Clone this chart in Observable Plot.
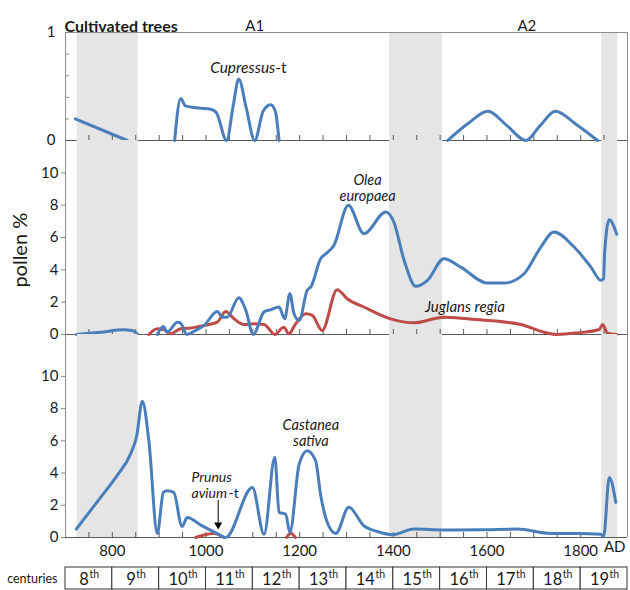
<!DOCTYPE html>
<html><head><meta charset="utf-8">
<script src="https://cdn.jsdelivr.net/npm/d3@7"></script>
<script src="https://cdn.jsdelivr.net/npm/@observablehq/plot@0.6"></script>
<style>
body{margin:0;background:#fff;}
#chart{position:relative;width:630px;height:590px;}
#chart svg{position:absolute;left:0;top:0;}
</style></head><body><div id="chart"></div>
<script>
// ---------- data ----------
const bandStart = [725, 1392, 1845];
const bandEnd   = [855, 1505, 1879];
const xTickYears  = [750, 800, 850, 900, 950, 1000, 1050, 1100, 1150, 1200, 1250, 1300, 1350, 1400, 1450, 1500, 1550, 1600, 1650, 1700, 1750, 1800, 1850];
const xLabelYears = [800, 1000, 1200, 1400, 1600, 1800];
const topTicks = [0, 1];
const topMinorTicks = [0.2, 0.4, 0.6, 0.8];
const pollenTicks = [0, 2, 4, 6, 8, 10];
const centuryStart = [700, 800, 900, 1000, 1100, 1200, 1300, 1400, 1500, 1600, 1700, 1800];
const centuryLabel = ["8", "9", "10", "11", "12", "13", "14", "15", "16", "17", "18", "19"];

// Cupressus-t (top panel), null = gap
const cupressusYear  = [721, 832, 880, 933, 946, 956, 985, 1010, 1022, 1044, 1058, 1070, 1086, 1104, 1122, 1138, 1148, 1156, 1300, 1516, 1560, 1602, 1642, 1683, 1714, 1746, 1790, 1836];
const cupressusValue = [0.2, 0, null, 0, 0.39, 0.32, 0.3, 0.29, 0.26, 0, 0.32, 0.57, 0.3, 0, 0.27, 0.33, 0.27, 0, null, 0, 0.16, 0.27, 0.14, 0, 0.14, 0.27, 0.15, 0];

// Olea europaea (middle)
const oleaYear  = [723, 775, 824, 842, 853, 875, 896, 909, 917, 939, 946, 959, 971, 996, 1024, 1035, 1045, 1070, 1085, 1101, 1124, 1138, 1156, 1168, 1179, 1188, 1199, 1216, 1224, 1245, 1256, 1273, 1304, 1337, 1384, 1401, 1423, 1448, 1473, 1508, 1544, 1601, 1637, 1679, 1715, 1743, 1786, 1822, 1843, 1849, 1851, 1861, 1877];
const oleaValue = [0, 0.14, 0.29, 0.25, 0.04, null, 0, 0.5, 0.15, 0.76, 0.7, 0, 0.15, 0.56, 1.43, 1.07, 1.07, 2.27, 1.5, 0, 1.4, 1.53, 1.7, 0.97, 2.52, 1.28, 0.87, 2.73, 2.95, 4.7, 5.0, 5.5, 8.0, 6.24, 7.58, 6.96, 4.59, 2.98, 3.35, 4.69, 4.17, 3.18, 3.18, 3.76, 5.41, 6.34, 5.41, 4.17, 3.35, 3.45, 5.0, 7.1, 6.2];

// Juglans regia (middle)
const juglansYear  = [878, 896, 910, 924, 946, 967, 996, 1024, 1042, 1060, 1081, 1102, 1124, 1147, 1166, 1177, 1190, 1213, 1227, 1248, 1280, 1302, 1337, 1394, 1444, 1508, 1558, 1672, 1722, 1751, 1793, 1840, 1847, 1857, 1877];
const juglansValue = [0, 0.35, 0.3, 0.04, 0.35, 0.4, 0.56, 0.76, 1.43, 0.97, 0.62, 0.66, 0.62, 0, 0.45, 0.04, 0.6, 1.28, 1.18, 0.25, 2.77, 2.2, 1.7, 0.97, 0.72, 1.07, 0.97, 0.62, 0.14, 0, 0.1, 0.31, 0.62, 0.08, 0];

// Castanea sativa (bottom)
const castaneaYear  = [723, 775, 810, 839, 852, 864, 878, 896, 909, 917, 931, 949, 960, 990, 1020, 1042, 1099, 1124, 1147, 1156, 1170, 1179, 1199, 1216, 1234, 1245, 1259, 1277, 1305, 1337, 1366, 1398, 1444, 1508, 1594, 1665, 1736, 1793, 1843, 1849, 1861, 1875];
const castaneaValue = [0.52, 2.49, 3.84, 5.19, 6.3, 8.46, 6.0, 0.25, 2.8, 2.9, 2.8, 0.68, 1.24, 0.75, 0.3, 0, 3.1, 0.2, 4.98, 1.56, 1.45, 0.31, 4.56, 5.39, 4.77, 2.6, 0.93, 0.25, 1.87, 0.73, 0.37, 0.17, 0.52, 0.46, 0.48, 0.52, 0.25, 0.25, 0.2, 0.05, 3.73, 2.18];

// Prunus avium-t (bottom)
const prunusYear  = [978, 995, 1016, 1030, 1038, 1100, 1172, 1181, 1191];
const prunusValue = [0, 0.15, 0.25, 0.15, 0, null, 0, 0.27, 0];

// ---------- build ----------
const zip = (xs, ys) => xs.map((x, i) => ({year: x, value: ys[i]}));
const cupressus = zip(cupressusYear, cupressusValue);
const olea = zip(oleaYear, oleaValue);
const juglans = zip(juglansYear, juglansValue);
const castanea = zip(castaneaYear, castaneaValue);
const prunus = zip(prunusYear, prunusValue);
const bands = bandStart.map((s, i) => ({start: s, end: bandEnd[i]}));
const centuries = centuryStart.map((s, i) => ({start: s, end: s + 100, label: centuryLabel[i]}));

const W = 630, ML = 65, MR = 3;
const xDomain = [centuryStart[0], centuryStart[centuryStart.length - 1] + 100];
const BLUE = "#4a7ebb", RED = "#be4b48", BAND = "#e5e5e5", FRAME = "#8c8c8c", ZERO = "#595959", INK = "#1a1a1a";
const FONT = "Lato, 'Open Sans', sans-serif";
const style = {background: "transparent", overflow: "visible", fontFamily: FONT, fontSize: "15px", color: INK};
const base = {width: W, marginLeft: ML, marginRight: MR, x: {domain: xDomain, axis: null}, style};
const fmt = d => String(d);

const bandMark = () => Plot.rect(bands, {x1: "start", x2: "end", fill: BAND});
const edges = () => Plot.ruleX(xDomain, {stroke: FRAME});
const zeroLine = () => Plot.ruleY([0], {stroke: ZERO});
const zeroTicks = (panelH) => Plot.tickX(xTickYears, {x: d => d, insetTop: panelH - 5, stroke: ZERO});
const series = (data, color) => Plot.line(data, {x: "year", y: "value", stroke: color, strokeWidth: 3, curve: "monotone-x"});
const label = (t, o) => Plot.text([t], {fontSize: 15, fill: INK, ...o});

const chart = document.getElementById("chart");

// Top panel
const topDomain = [0, 1];
chart.append(Plot.plot({
  ...base, height: 150, marginTop: 32, marginBottom: 10,
  y: {domain: topDomain, axis: null},
  marks: [
    bandMark(), edges(),
    Plot.ruleY([topDomain[1]], {stroke: FRAME}),
    Plot.tickY(topMinorTicks, {y: d => d, insetRight: W - ML - MR - 4, stroke: FRAME}),
    Plot.axisY({ticks: topTicks, tickSize: 0, tickPadding: 10, fontSize: 15, label: null, tickFormat: fmt}),
    zeroLine(), zeroTicks(108),
    series(cupressus, BLUE),
    label("Cultivated trees", {frameAnchor: "top-left", textAnchor: "start", dx: -1, dy: -12, fontWeight: "bold", fontSize: 16}),
    label("A1", {x: 1104, frameAnchor: "top", dy: -12}),
    label("A2", {x: 1685, frameAnchor: "top", dy: -12}),
    label("Cupressus", {x: 1148, y: 0.67, textAnchor: "end", fontStyle: "italic", fontSize: 15.5}),
    label("-t", {x: 1148, y: 0.67, textAnchor: "start", fontSize: 15.5})
  ]
}));

// Middle panel
chart.append(Plot.plot({
  ...base, height: 344, marginTop: 140, marginBottom: 10,
  y: {domain: [0, 12], axis: null},
  marks: [
    bandMark(), edges(),
    Plot.axisY({ticks: pollenTicks, tickSize: 4, tickPadding: 3, fontSize: 15, label: null, stroke: FRAME, tickFormat: fmt}),
    zeroLine(), zeroTicks(194),
    series(juglans, RED),
    series(olea, BLUE),
    label("Olea", {x: 1345, y: 9.05, dy: -8, fontStyle: "italic", fontSize: 14.5}),
    label("europaea", {x: 1345, y: 9.05, dy: 8, fontStyle: "italic", fontSize: 14.5}),
    label("Juglans regia", {x: 1553, y: 1.67, fontStyle: "italic"}),
    label("pollen %", {frameAnchor: "left", y: 2.9, dx: -45, rotate: -90, fontSize: 20})
  ]
}));

// Bottom panel
chart.append(Plot.plot({
  ...base, height: 590, marginTop: 334, marginBottom: 53,
  y: {domain: [0, 12.6], axis: null},
  marks: [
    bandMark(), edges(),
    Plot.axisY({ticks: pollenTicks, tickSize: 4, tickPadding: 3, fontSize: 15, label: null, stroke: FRAME, tickFormat: fmt}),
    zeroLine(), zeroTicks(203),
    Plot.axisX({ticks: xLabelYears, tickSize: 0, tickPadding: 8, fontSize: 15, label: null, tickFormat: fmt}),
    label("AD", {frameAnchor: "bottom-right", textAnchor: "end", dx: -2, dy: 14}),
    series(prunus, RED),
    series(castanea, BLUE),
    label("Castanea", {x: 1224, y: 6.48, dy: -8, fontStyle: "italic", fontSize: 14.5}),
    label("sativa", {x: 1224, y: 6.48, dy: 8, fontStyle: "italic", fontSize: 14.5}),
    label("Prunus", {x: 969, y: 3.25, dy: -8, textAnchor: "start", fontStyle: "italic", fontSize: 14}),
    label("avium", {x: 969, y: 3.25, dy: 8, textAnchor: "start", fontStyle: "italic", fontSize: 14}),
    label("-t", {x: 1048, y: 3.25, dy: 8, textAnchor: "start", fontSize: 14}),
    Plot.ruleX([1026], {y1: 2.3, y2: 0.85, stroke: "#000", strokeWidth: 1}),
    Plot.dot([1026], {x: d => d, y: 0.78, symbol: "triangle", rotate: 180, r: 3, fill: "#000", stroke: "none"})
  ]
}));

// Centuries row
const oneDigit = centuries.filter(d => d.label.length === 1);
const twoDigit = centuries.filter(d => d.label.length === 2);
const mid = d => (d.start + d.end) / 2;
chart.append(Plot.plot({
  ...base, height: 590, marginTop: 567, marginBottom: 1,
  marks: [
    Plot.rect(centuries, {x1: "start", x2: "end", fill: "white", stroke: "#333", strokeWidth: 1}),
    Plot.text(oneDigit, {x: mid, text: "label", textAnchor: "end", dx: 0, dy: 1, fontSize: 16.5, fill: INK}),
    Plot.text(twoDigit, {x: mid, text: "label", textAnchor: "end", dx: 5, dy: 1, fontSize: 16.5, fill: INK}),
    Plot.text(oneDigit, {x: mid, text: () => "th", textAnchor: "start", dx: 0.5, dy: -3.5, fontSize: 10.5, fill: INK}),
    Plot.text(twoDigit, {x: mid, text: () => "th", textAnchor: "start", dx: 5.5, dy: -3.5, fontSize: 10.5, fill: INK}),
    label("centuries", {frameAnchor: "left", textAnchor: "end", dx: -8, fontSize: 12.5})
  ]
}));
</script></body></html>
